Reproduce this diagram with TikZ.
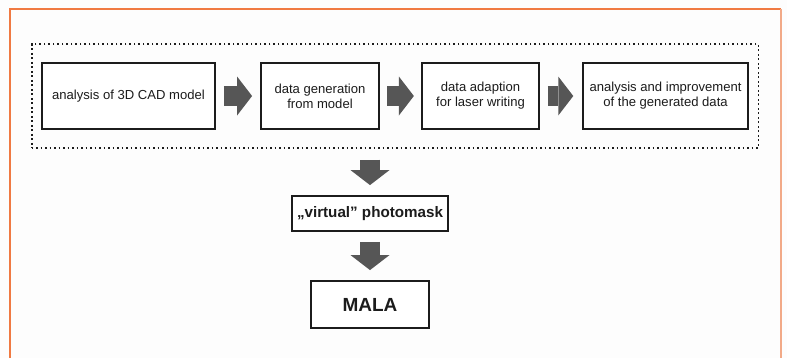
\documentclass[tikz,border=0pt]{standalone}
\usepackage{fontspec}
\setmainfont{Liberation Sans}
\usetikzlibrary{arrows.meta,positioning,fit}
\definecolor{FrameOrange}{HTML}{F07A42}
\definecolor{FrameSalmon}{HTML}{F2AA88}
\definecolor{ArrowGray}  {HTML}{565656}
\definecolor{InkGray}    {HTML}{1C1C1C}
\definecolor{PaperWhite} {HTML}{FDFDFD}
\tikzset{
  sbox/.style={rectangle,draw=InkGray,line width=1.3pt,fill=white,
               font=\fontsize{9.3}{10.8}\selectfont,text=InkGray,
               minimum height=1.65cm,align=center,inner sep=2pt},
  rbox/.style={rectangle,draw=InkGray,line width=1.3pt,fill=white,
               font=\bfseries,text=InkGray,align=center,inner sep=2pt},
  fatarr/.style={-{Triangle[length=0.375cm,width=0.975cm,line width=0pt]},
                 line width=0.5cm,color=ArrowGray},
}

\begin{document}
\begin{tikzpicture}[x=0.025cm,y=-0.025cm]

  \fill[PaperWhite] (0,0) rectangle (787,358);
  \useasboundingbox (0,0) rectangle (787,358);
  \draw[FrameOrange,line width=1.4pt] (10,358) -- (10,9) -- (781,9);
  \draw[FrameSalmon,line width=1.4pt] (781,9) -- (781,358);

  % process chain
  \node[sbox,minimum width=4.325cm] (cad)  at (128.5,96){analysis of 3D CAD model};
  \node[sbox,minimum width=2.95cm]  (gen)  at (320,96)  {data generation\\from model};
  \node[sbox,minimum width=2.925cm] (adap) at (480.5,96){data adaption\\for laser writing};
  \node[sbox,minimum width=4.125cm] (impr) at (665.5,96){analysis and improvement\\of the generated data};

  \node[draw=InkGray,line width=1.2pt,dotted,fit=(cad)(impr),
        inner xsep=0.235cm,inner ysep=0.45cm] (chain) {};

  \draw[fatarr,shorten <=0.2cm,shorten >=0.2cm] (cad)  -- (gen);
  \draw[fatarr,shorten <=0.18cm,shorten >=0.18cm] (gen)  -- (adap);
  \draw[fatarr,shorten <=0.2cm,shorten >=0.22cm] (adap) -- (impr);

  % result
  \node[rbox,font=\fontsize{10.8}{12}\selectfont\bfseries,
        minimum width=3.9cm,minimum height=0.875cm] (mask) at (370,213.5)
    {„virtual” photomask};
  \node[rbox,font=\fontsize{13.5}{15}\selectfont\bfseries,
        minimum width=2.95cm,minimum height=1.175cm] (mala) at (370,304.5){MALA};

  \draw[fatarr,shorten <=0.27cm,shorten >=0.25cm] (chain.south -| mask.north) -- (mask.north);
  \draw[fatarr,shorten <=0.25cm,shorten >=0.25cm] (mask) -- (mala);

\end{tikzpicture}
\end{document}
